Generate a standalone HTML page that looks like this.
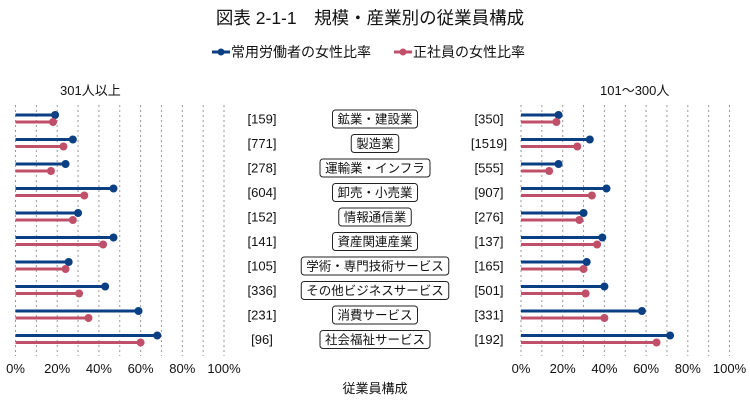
<!DOCTYPE html>
<html><head><meta charset="utf-8"><style>
html,body{margin:0;padding:0;background:#fff;}
svg{display:block;font-family:"Liberation Sans","Noto Sans CJK JP",sans-serif;}
</style></head><body>
<svg width="750" height="406" viewBox="0 0 750 406" xmlns="http://www.w3.org/2000/svg">
<text x="370" y="24" font-size="17.5" text-anchor="middle" fill="#111">図表 2-1-1　規模・産業別の従業員構成</text>
<g font-size="14" fill="#111">
<line x1="212" y1="52" x2="230" y2="52" stroke="#0a3f84" stroke-width="3"/><circle cx="221" cy="52" r="3.5" fill="#0a3f84"/>
<text x="231" y="57">常用労働者の女性比率</text>
<line x1="394" y1="52" x2="412" y2="52" stroke="#c0506a" stroke-width="3"/><circle cx="403" cy="52" r="3.5" fill="#c0506a"/>
<text x="413" y="57">正社員の女性比率</text>
</g>
<text x="60" y="95" font-size="13" fill="#111">301人以上</text>
<text x="600" y="95" font-size="13" fill="#111">101～300人</text>
<g id="chart"></g>
<text x="375" y="393" font-size="13" text-anchor="middle" fill="#111">従業員構成</text>
</svg>
<script>
const L=[[19,18],[27.5,23],[24,17],[47,33],[30,27.5],[47,42],[25.5,24],[43,30.5],[59,35],[68,60]];
const R=[[18,17],[33,27],[18,13.5],[41,34],[30,28],[39,36.5],[31.5,30],[40,31],[58,40],[71.5,65]];
const names=["鉱業・建設業","製造業","運輸業・インフラ","卸売・小売業","情報通信業","資産関連産業","学術・専門技術サービス","その他ビジネスサービス","消費サービス","社会福祉サービス"];
const ln=["[159]","[771]","[278]","[604]","[152]","[141]","[105]","[336]","[231]","[96]"];
const rn=["[350]","[1519]","[555]","[907]","[276]","[137]","[165]","[501]","[331]","[192]"];
let s="";
function panel(x0,data){
 for(let i=0;i<=10;i++){const x=x0+20.85*i;s+=`<line x1="${x}" y1="105" x2="${x}" y2="356" stroke="#999" stroke-width="1" stroke-dasharray="2,3"/>`;}
 const lab=["0%","20%","40%","60%","80%","100%"];
 lab.forEach((t,j)=>{s+=`<text x="${x0+41.7*j}" y="373" font-size="13" text-anchor="middle" fill="#111">${t}</text>`;});
 data.forEach((d,i)=>{const yb=115+24.5*i,yr=122+24.5*i;
  const xb=x0+2.085*d[0],xr=x0+2.085*d[1];
  s+=`<line x1="${x0}" y1="${yb}" x2="${xb}" y2="${yb}" stroke="#0a3f84" stroke-width="3"/><circle cx="${xb}" cy="${yb}" r="4" fill="#0a3f84"/>`;
  s+=`<line x1="${x0}" y1="${yr}" x2="${xr}" y2="${yr}" stroke="#c0506a" stroke-width="3"/><circle cx="${xr}" cy="${yr}" r="4" fill="#c0506a"/>`;
 });
}
panel(15.5,L);panel(521,R);
names.forEach((n,i)=>{const cy=119+24.5*i;const w=n.length*12.5+10;
 s+=`<rect x="${375-w/2}" y="${cy-9}" width="${w}" height="18" rx="3" fill="#fff" stroke="#222" stroke-width="1"/>`;
 s+=`<text x="375" y="${cy+4.5}" font-size="12.5" text-anchor="middle" fill="#111">${n}</text>`;
 s+=`<text x="262" y="${cy+4.5}" font-size="13" text-anchor="middle" fill="#111">${ln[i]}</text>`;
 s+=`<text x="489" y="${cy+4.5}" font-size="13" text-anchor="middle" fill="#111">${rn[i]}</text>`;
});
document.getElementById("chart").innerHTML=s;
</script>
</body></html>
